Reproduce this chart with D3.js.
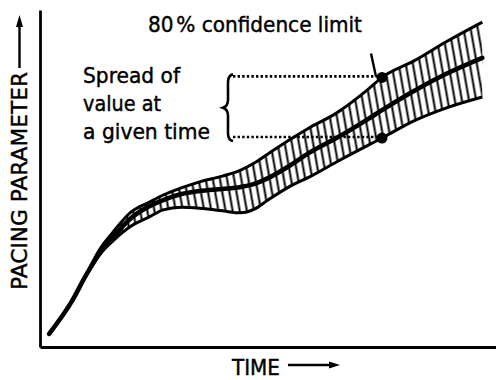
<!DOCTYPE html>
<html>
<head>
<meta charset="utf-8">
<script src="https://cdn.jsdelivr.net/npm/d3@7"></script>
<style>
  html, body { margin: 0; padding: 0; background: #fff; }
  svg { display: block; }
  text { font-family: "DejaVu Sans", sans-serif; fill: #000; stroke: #000; stroke-width: 0.45px; }
</style>
</head>
<body>
<svg id="chart" width="496" height="380"></svg>
<script>
// Time samples (arbitrary units) and the mean pacing parameter at each
const timeSteps = [0.2, 0.7, 1.0, 1.3, 1.6, 2.0, 2.4, 2.7, 3.1, 3.5, 4.0, 4.4, 4.7, 5.0, 5.5, 5.9, 6.5, 7.2, 7.5, 8.2, 8.9, 9.7];
const meanValue = [0.39, 1.36, 2.11, 2.76, 3.26, 3.83, 4.18, 4.36, 4.54, 4.63, 4.69, 4.75, 4.84, 5.01, 5.40, 5.76, 6.20, 6.77, 7.03, 7.60, 8.10, 8.58];

// 80% confidence band, defined from t = 1.0 onwards
const bandTime   = [1.0, 1.3, 1.6, 2.0, 2.4, 2.7, 3.1, 3.5, 4.0, 4.4, 4.7, 5.0, 5.5, 5.9, 6.5, 7.2, 7.5, 8.2, 8.9, 9.7];
const upperLimit = [2.11, 2.88, 3.41, 4.01, 4.30, 4.51, 4.72, 4.90, 5.07, 5.25, 5.46, 5.73, 6.17, 6.50, 6.94, 7.65, 8.00, 8.49, 9.05, 9.64];
const lowerLimit = [2.11, 2.73, 3.15, 3.59, 3.86, 4.07, 4.15, 4.12, 4.04, 3.98, 4.09, 4.36, 4.78, 5.04, 5.49, 5.99, 6.20, 6.71, 7.09, 7.42];

// Time at which the spread is marked
const markTime = 7.5;

const axisTitles = { x: "TIME", y: "PACING PARAMETER" };
const limitLabel = ["80", "% confidence limit"];
const spreadLabel = ["Spread of", "value at", "a given time"];

const svg = d3.select("#chart");
const margin = { left: 40, right: 0, top: 10, bottom: 33 };
const W = 496, H = 380;

const x = d3.scaleLinear().domain([0, 10]).range([margin.left, W - margin.right]);
const y = d3.scaleLinear().domain([0, 10]).range([H - margin.bottom, margin.top]);

// Hatch pattern for the confidence band
const defs = svg.append("defs");
const pat = defs.append("pattern")
  .attr("id", "hatch")
  .attr("patternUnits", "userSpaceOnUse")
  .attr("width", 7).attr("height", 40)
  .attr("patternTransform", "rotate(-10)");
pat.append("line")
  .attr("x1", 3.5).attr("y1", 0).attr("x2", 3.5).attr("y2", 40)
  .attr("stroke", "#000").attr("stroke-width", 2);

// Axes: plain lines, no ticks
svg.append("g")
  .attr("transform", `translate(0,${y(0)})`)
  .call(d3.axisBottom(x).ticks(0).tickSizeOuter(0))
  .call(g => g.select(".domain").attr("stroke", "#000").attr("stroke-width", 2.8));
svg.append("g")
  .attr("transform", `translate(${x(0)},0)`)
  .call(d3.axisLeft(y).ticks(0).tickSizeOuter(0))
  .call(g => g.select(".domain").attr("stroke", "#000").attr("stroke-width", 2.8));

const band = bandTime.map((t, i) => ({ t, hi: upperLimit[i], lo: lowerLimit[i] }));
const mean = timeSteps.map((t, i) => ({ t, v: meanValue[i] }));
const curve = d3.curveMonotoneX;

// Hatched band
svg.append("path")
  .datum(band)
  .attr("fill", "url(#hatch)")
  .attr("d", d3.area().x(d => x(d.t)).y0(d => y(d.lo)).y1(d => y(d.hi)).curve(curve));

// Band edges
const edge = key => d3.line().x(d => x(d.t)).y(d => y(d[key])).curve(curve);
svg.append("path").datum(band).attr("fill", "none").attr("stroke", "#000")
  .attr("stroke-width", 3).attr("d", edge("hi"));
svg.append("path").datum(band).attr("fill", "none").attr("stroke", "#000")
  .attr("stroke-width", 3).attr("d", edge("lo"));

// Mean line
svg.append("path").datum(mean)
  .attr("fill", "none").attr("stroke", "#000")
  .attr("stroke-width", 4.6).attr("stroke-linecap", "round").attr("stroke-linejoin", "round")
  .attr("d", d3.line().x(d => x(d.t)).y(d => y(d.v)).curve(curve));

// Spread markers at the chosen time
const mi = bandTime.indexOf(markTime);
const hiY = y(upperLimit[mi]), loY = y(lowerLimit[mi]), mX = x(markTime);
const leaderX0 = 233;

[hiY, loY].forEach(py => {
  svg.append("line")
    .attr("x1", leaderX0).attr("x2", mX - 4).attr("y1", py - 1).attr("y2", py - 1)
    .attr("stroke", "#000").attr("stroke-width", 2.6)
    .attr("stroke-dasharray", "2.4,2.2");
  svg.append("circle").attr("cx", mX).attr("cy", py).attr("r", 5.5).attr("fill", "#000");
});

// Pointer from the confidence-limit label to the upper limit
svg.append("line")
  .attr("x1", mX - 11).attr("y1", hiY - 24).attr("x2", mX - 6).attr("y2", hiY - 1)
  .attr("stroke", "#000").attr("stroke-width", 2.4);

// Curly brace spanning the two markers
const bx = 233, bTop = hiY - 3, bBot = loY + 3, bMid = (bTop + bBot) / 2;
svg.append("path")
  .attr("fill", "none").attr("stroke", "#000").attr("stroke-width", 2.6)
  .attr("d", `M${bx},${bTop} C${bx - 6},${bTop + 1} ${bx - 5},${bTop + 8} ${bx - 5},${bTop + 14}
              L${bx - 5},${bMid - 8} C${bx - 5},${bMid - 3} ${bx - 7},${bMid - 1} ${bx - 10},${bMid}
              C${bx - 7},${bMid + 1} ${bx - 5},${bMid + 3} ${bx - 5},${bMid + 8}
              L${bx - 5},${bBot - 14} C${bx - 5},${bBot - 8} ${bx - 6},${bBot - 1} ${bx},${bBot}`);

// Labels
const lim = svg.append("text").attr("x", 148).attr("y", 32).attr("font-size", 22)
  .attr("textLength", 214).attr("lengthAdjust", "spacingAndGlyphs");
lim.append("tspan").text(limitLabel[0]);
lim.append("tspan").attr("dx", 3).text(limitLabel[1]);

const spreadWidths = [97, 78, 127];
spreadLabel.forEach((s, i) => {
  svg.append("text").attr("x", 83).attr("y", 83 + i * 28).attr("font-size", 22)
    .attr("textLength", spreadWidths[i]).attr("lengthAdjust", "spacingAndGlyphs")
    .text(s);
});

// Axis titles with arrows
svg.append("text")
  .attr("transform", `translate(27,290) rotate(-90)`)
  .attr("font-size", 22)
  .attr("textLength", 218).attr("lengthAdjust", "spacingAndGlyphs")
  .text(axisTitles.y);
svg.append("line").attr("x1", 19.5).attr("x2", 19.5).attr("y1", 68).attr("y2", 24)
  .attr("stroke", "#000").attr("stroke-width", 2.4);
svg.append("path").attr("d", "M19.5,15 L16,27 L23,27 Z").attr("fill", "#000");

svg.append("text")
  .attr("x", 232).attr("y", 375)
  .attr("font-size", 22)
  .attr("textLength", 48).attr("lengthAdjust", "spacingAndGlyphs")
  .text(axisTitles.x);
svg.append("line").attr("x1", 288).attr("x2", 332).attr("y1", 365).attr("y2", 365)
  .attr("stroke", "#000").attr("stroke-width", 2.4);
svg.append("path").attr("d", "M340,365 L329,361.5 L329,368.5 Z").attr("fill", "#000");
</script>
</body>
</html>
